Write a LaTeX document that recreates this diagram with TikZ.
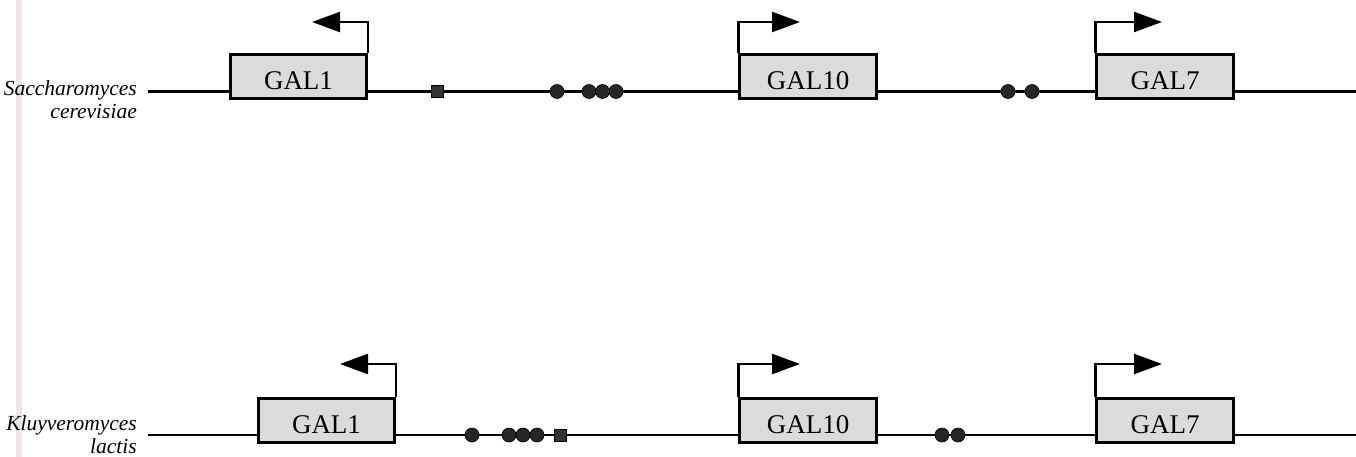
\documentclass[tikz,border=0pt]{standalone}
\usepackage{fontspec}
\setmainfont{Liberation Serif}
\usetikzlibrary{arrows.meta}

\tikzset{
  backbone/.style={line width=2.7pt},
  genebox/.style={draw, line width=2.8pt, fill=gray!28, rectangle,
    minimum width=136.5pt, minimum height=44.5pt, inner sep=0pt,
    text height=26pt, text depth=0pt, font=\fontsize{27}{27}\selectfont},
  promoter/.style={line width=2.3pt, -{Triangle[length=28pt,width=20pt]}},
  site/.style={circle, fill=black!85, draw=black, line width=0.6pt,
    minimum size=14pt, inner sep=0pt},
  boxsite/.style={rectangle, fill=black!80, draw=black, line width=0.6pt,
    minimum size=12pt, inner sep=0pt},
  species/.style={anchor=base east, inner sep=0pt,
    font=\fontsize{21.5}{21.5}\selectfont\itshape},
}

\begin{document}
\begin{tikzpicture}[x=1pt, y=-1pt]
  \useasboundingbox (0,0) rectangle (1356,457);
  \fill[white] (0,0) rectangle (1356,457);
  % pale page-edge strip
  \fill[color={rgb,255:red,238;green,230;blue,226}] (16,0) rectangle (22,457);

  % ---- Saccharomyces cerevisiae ----
  \node[species] (sc1) at (137,96) {Saccharomyces};
  \node[species] (sc2) at (137,119) {cerevisiae};
  \coordinate (sa) at (148,91.5);
  \coordinate (sb) at (1356,91.5);
  \draw[backbone] (sa) -- (sb);

  \node[genebox] (sg1)  at (298.5,76.5) {GAL1};
  \node[genebox] (sg10) at (808,76.5)   {GAL10};
  \node[genebox] (sg7)  at (1165,76.5)  {GAL7};

  \coordinate (sg1tip)  at (312,22);
  \coordinate (sg10tip) at (800,22);
  \coordinate (sg7tip)  at (1162,22);
  \draw[promoter] (sg1.north east) |- (sg1tip);
  \draw[promoter] (sg10.north west) |- (sg10tip);
  \draw[promoter] (sg7.north west) |- (sg7tip);

  \node[boxsite] (sq1) at (437,91.5) {};
  \node[site] (sc1a) at (557,91.5) {};
  \node[site] (sc1b) at (589,91.5) {};
  \node[site] (sc1c) at (602.5,91.5) {};
  \node[site] (sc1d) at (616,91.5) {};
  \node[site] (sc2a) at (1008,91.5) {};
  \node[site] (sc2b) at (1032,91.5) {};

  % ---- Kluyveromyces lactis ----
  \node[species] (kl1) at (137,430) {Kluyveromyces};
  \node[species] (kl2) at (137,453.5) {lactis};
  \coordinate (ka) at (148,435);
  \coordinate (kb) at (1356,435);
  \draw[backbone] (ka) -- (kb);

  \node[genebox] (kg1)  at (326.5,420.5) {GAL1};
  \node[genebox] (kg10) at (808,420.5)   {GAL10};
  \node[genebox] (kg7)  at (1165,420.5)  {GAL7};

  \coordinate (kg1tip)  at (340,364);
  \coordinate (kg10tip) at (800,364);
  \coordinate (kg7tip)  at (1162,364);
  \draw[promoter] (kg1.north east) |- (kg1tip);
  \draw[promoter] (kg10.north west) |- (kg10tip);
  \draw[promoter] (kg7.north west) |- (kg7tip);

  \node[site] (kc1a) at (472,435) {};
  \node[site] (kc1b) at (509,435) {};
  \node[site] (kc1c) at (523,435) {};
  \node[site] (kc1d) at (537,435) {};
  \node[boxsite] (kq1) at (560,435) {};
  \node[site] (kc2a) at (942,435) {};
  \node[site] (kc2b) at (958,435) {};
\end{tikzpicture}
\end{document}
